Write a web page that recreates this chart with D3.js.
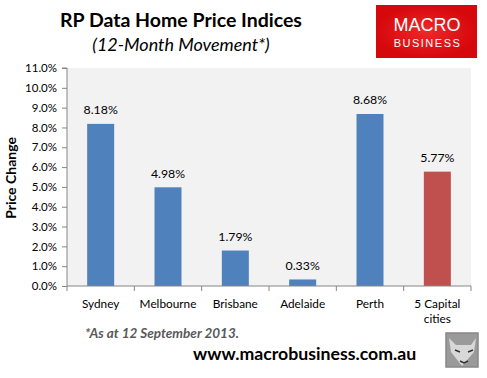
<!DOCTYPE html>
<html>
<head>
<meta charset="utf-8">
<script src="https://cdn.jsdelivr.net/npm/d3@7"></script>
<style>
  body { margin: 0; background: #fff; }
  text { font-family: "Lato", "Open Sans", sans-serif; }
</style>
</head>
<body>
<div id="chart"></div>
<script>
const categories = ["Sydney", "Melbourne", "Brisbane", "Adelaide", "Perth", "5 Capital|cities"];
const values = [8.18, 4.98, 1.79, 0.33, 8.68, 5.77];
const barColors = ["#4f81bd", "#4f81bd", "#4f81bd", "#4f81bd", "#4f81bd", "#c0504d"];
const yTicks = [0, 1, 2, 3, 4, 5, 6, 7, 8, 9, 10, 11];

const width = 487;
const height = 378;
const margin = { left: 67, right: 16, top: 68, bottom: 92 };

const svg = d3.select("#chart")
  .append("svg")
  .attr("width", width)
  .attr("height", height);

const x = d3.scaleBand().domain(d3.range(categories.length)).range([margin.left, width - margin.right]);
const y = d3.scaleLinear().domain([0, 11]).range([height - margin.bottom, margin.top]);

// plot background
svg.append("rect")
  .attr("x", margin.left)
  .attr("y", margin.top)
  .attr("width", width - margin.left - margin.right)
  .attr("height", y(0) - margin.top)
  .attr("fill", "#f2f2f2");

// bars
svg.append("g").selectAll("rect")
  .data(values)
  .join("rect")
  .attr("x", (d, i) => x(i) + x.bandwidth() / 2 - 13.5)
  .attr("y", d => y(d))
  .attr("width", 27)
  .attr("height", d => y(0) - y(d))
  .attr("fill", (d, i) => barColors[i]);

// value labels
svg.append("g").selectAll("text")
  .data(values)
  .join("text")
  .attr("x", (d, i) => x(i) + x.bandwidth() / 2)
  .attr("y", d => y(d) - 9.5)
  .attr("text-anchor", "middle")
  .attr("font-size", 12.3)
  .attr("fill", "#000")
  .text(d => d.toFixed(2) + "%");

// y axis
const yAxis = svg.append("g")
  .attr("transform", `translate(${margin.left},0)`)
  .call(d3.axisLeft(y).tickValues(yTicks).tickSize(5).tickPadding(5).tickFormat(d => d.toFixed(1) + "%"));
yAxis.select(".domain").attr("stroke", "#868686").attr("d", `M-5,${y(11)}H0V${y(0)}`);
yAxis.selectAll(".tick line").attr("stroke", "#868686");
yAxis.selectAll(".tick text").attr("font-size", 11.5).attr("fill", "#000").style("font-family", "Lato, sans-serif");

// x axis
const xAxis = svg.append("g").attr("transform", `translate(0,${y(0)})`);
xAxis.append("line")
  .attr("x1", margin.left).attr("x2", width - margin.right)
  .attr("stroke", "#868686");
xAxis.selectAll(".xt")
  .data(d3.range(categories.length + 1))
  .join("line")
  .attr("x1", i => i < categories.length ? x(i) : x(i - 1) + x.bandwidth())
  .attr("x2", i => i < categories.length ? x(i) : x(i - 1) + x.bandwidth())
  .attr("y1", 0).attr("y2", 5)
  .attr("stroke", "#868686");
xAxis.selectAll(".xl")
  .data(categories)
  .join("text")
  .attr("x", (d, i) => x(i) + x.bandwidth() / 2)
  .attr("y", 21.5)
  .attr("text-anchor", "middle")
  .attr("font-size", 11.8)
  .attr("fill", "#000")
  .each(function(d) {
    const parts = d.split("|");
    d3.select(this).selectAll("tspan")
      .data(parts)
      .join("tspan")
      .attr("x", this.getAttribute("x"))
      .attr("dy", (p, j) => j === 0 ? 0 : 15)
      .text(p => p);
  });

// axis title
svg.append("text")
  .attr("transform", "translate(16,178) rotate(-90)")
  .attr("text-anchor", "middle")
  .attr("font-size", 14)
  .attr("font-weight", "bold")
  .text("Price Change");

// titles
svg.append("text")
  .attr("x", 181).attr("y", 27)
  .attr("text-anchor", "middle")
  .attr("font-size", 19.5)
  .attr("font-weight", "bold")
  .text("RP Data Home Price Indices");
svg.append("text")
  .attr("x", 181).attr("y", 51)
  .attr("text-anchor", "middle")
  .attr("font-size", 18)
  .attr("font-style", "italic")
  .text("(12-Month Movement*)");

// footnote
svg.append("text")
  .attr("x", 85).attr("y", 338)
  .attr("font-size", 13.5)
  .attr("font-weight", "bold")
  .attr("font-style", "italic")
  .attr("fill", "#595959")
  .text("*As at 12 September 2013.");

svg.append("text")
  .attr("x", 193).attr("y", 360)
  .attr("font-size", 17.7)
  .attr("font-weight", "bold")
  .attr("fill", "#000")
  .text("www.macrobusiness.com.au");

// logo
const defs = svg.append("defs");
const grad = defs.append("radialGradient").attr("id", "lg");
grad.append("stop").attr("offset", "0%").attr("stop-color", "#f0282a");
grad.append("stop").attr("offset", "100%").attr("stop-color", "#d5080c");
svg.append("rect")
  .attr("x", 376).attr("y", 5).attr("width", 101).attr("height", 53)
  .attr("fill", "url(#lg)");
svg.append("text")
  .attr("x", 427).attr("y", 31)
  .attr("text-anchor", "middle")
  .attr("font-size", 18)
  .attr("fill", "#fff")
  .style("font-family", "Liberation Sans, Arial, sans-serif")
  .text("MACRO");
svg.append("text")
  .attr("x", 427.5).attr("y", 47)
  .attr("text-anchor", "middle")
  .attr("font-size", 11)
  .attr("letter-spacing", 1.5)
  .attr("fill", "#fff")
  .style("font-family", "Liberation Sans, Arial, sans-serif")
  .text("BUSINESS");

// wolf badge
svg.append("rect")
  .attr("x", 446).attr("y", 333).attr("width", 32).attr("height", 34)
  .attr("fill", "#9a9a9a").attr("stroke", "#888").attr("stroke-width", 1.5);
svg.append("path")
  .attr("d", "M449,338 L456,345 L471,345 L476,338 L474,352 L462,366 L451,352 Z")
  .attr("fill", "#d8d8d8");
svg.append("path")
  .attr("d", "M455,350 L460,352 M468,352 L473,350 M460,361 L464,363 L468,361")
  .attr("stroke", "#333").attr("stroke-width", 1.5).attr("fill", "none");
</script>
</body>
</html>
